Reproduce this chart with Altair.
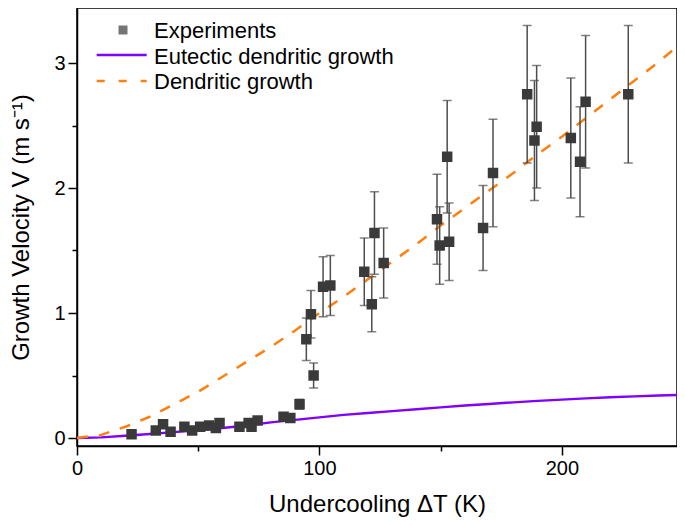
import altair as alt
import pandas as pd

# ---- data ----
exp_dT = [22.5, 32.5, 35.5, 38.6, 44.3, 47.5, 50.8, 54.5, 57.3, 58.8, 67.0, 70.8, 72.0, 74.5,
          85.2, 88.0, 91.8, 94.6, 96.5, 97.6, 101.5, 104.5, 118.5, 121.6, 122.7, 126.5,
          148.5, 149.6, 152.7, 153.5, 167.5, 171.6, 185.7, 188.7, 189.6, 203.7, 207.5, 209.8, 227.4]
exp_V = [0.03, 0.06, 0.11, 0.05, 0.09, 0.06, 0.09, 0.10, 0.08, 0.12, 0.09, 0.12, 0.09, 0.14,
         0.17, 0.16, 0.27, 0.79, 0.99, 0.50, 1.21, 1.22, 1.33, 1.07, 1.64, 1.40,
         1.75, 1.54, 2.25, 1.57, 1.68, 2.12, 2.75, 2.38, 2.49, 2.40, 2.21, 2.69, 2.75]
exp_err = [0.02, 0.01, 0.01, 0.01, 0.01, 0.01, 0.01, 0.01, 0.01, 0.01, 0.01, 0.01, 0.01, 0.01,
           0.02, 0.02, 0.04, 0.17, 0.19, 0.10, 0.24, 0.24, 0.27, 0.22, 0.33, 0.28,
           0.36, 0.31, 0.45, 0.31, 0.34, 0.43, 0.55, 0.48, 0.49, 0.48, 0.44, 0.53, 0.55]

curve_dT = [0, 10, 20, 30, 40, 50, 60, 70, 80, 90, 100, 110, 120, 130, 140, 150, 160, 170,
            180, 190, 200, 210, 220, 230, 240, 250]
eutectic_V = [0, 0.005, 0.018, 0.032, 0.047, 0.062, 0.08, 0.10, 0.125, 0.145, 0.165, 0.185,
              0.20, 0.215, 0.23, 0.245, 0.26, 0.272, 0.285, 0.297, 0.307, 0.317, 0.326, 0.333,
              0.34, 0.345]
dendritic_V = [0, 0.025, 0.09, 0.17, 0.27, 0.37, 0.49, 0.61, 0.73, 0.86, 1.00, 1.13, 1.27,
               1.41, 1.55, 1.70, 1.84, 1.98, 2.12, 2.27, 2.41, 2.56, 2.71, 2.86, 3.01, 3.17]

legend_labels = ["Experiments", "Eutectic dendritic growth", "Dendritic growth"]
x_ticks = [0, 50, 100, 150, 200]
y_ticks = [0, 0.5, 1, 1.5, 2, 2.5, 3]

FONT = "Liberation Sans"
PURPLE = "#8000ff"
ORANGE = "#ff7f0e"
SQUARE = "#3a3a3a"
ERR = "#4d4d4d"

exp = pd.DataFrame({"T": exp_dT, "V": exp_V,
                    "lo": [v - e for v, e in zip(exp_V, exp_err)],
                    "hi": [v + e for v, e in zip(exp_V, exp_err)]})
curves = pd.DataFrame({"T": curve_dT, "eut": eutectic_V, "den": dendritic_V})

xs = alt.Scale(domain=[0, 247.5], nice=False, zero=False)
ys = alt.Scale(domain=[-0.064, 3.44], nice=False, zero=False)

xaxis = alt.Axis(
    values=x_ticks, grid=False, title="Undercooling ΔT (K)",
    labelExpr="datum.value % 100 === 0 ? datum.label : ''",
    tickSize={"condition": {"test": "datum.value % 100 === 0", "value": 9}, "value": 5},
    labelFontSize=20, titleFontSize=24, labelPadding=3, titlePadding=14,
    labelFlush=False, labelOverlap=False, titleFontWeight="normal",
)
yaxis = alt.Axis(
    values=y_ticks, grid=False, title="Growth Velocity  V  (m s⁻¹)",
    labelExpr="datum.value % 1 === 0 ? format(datum.value, 'd') : ''",
    tickSize={"condition": {"test": "datum.value % 1 === 0", "value": 9}, "value": 5},
    labelFontSize=20, titleFontSize=24, labelPadding=3, titlePadding=20,
    labelFlush=False, labelOverlap=False, titleFontWeight="normal",
)

base_c = alt.Chart(curves)
eut = base_c.mark_line(color=PURPLE, strokeWidth=2.5, clip=True).encode(
    x=alt.X("T:Q", scale=xs, axis=xaxis), y=alt.Y("eut:Q", scale=ys, axis=yaxis))
den = base_c.mark_line(color=ORANGE, strokeWidth=2.5, strokeDash=[11, 11], clip=True).encode(
    x=alt.X("T:Q", scale=xs), y=alt.Y("den:Q", scale=ys))

base_e = alt.Chart(exp)
bars = base_e.mark_rule(color=ERR, strokeWidth=1.5).encode(
    x=alt.X("T:Q", scale=xs), y=alt.Y("lo:Q", scale=ys), y2="hi:Q")
cap_lo = base_e.mark_tick(color=ERR, thickness=1.5, size=9, orient="horizontal").encode(
    x=alt.X("T:Q", scale=xs), y=alt.Y("lo:Q", scale=ys))
cap_hi = base_e.mark_tick(color=ERR, thickness=1.5, size=9, orient="horizontal").encode(
    x=alt.X("T:Q", scale=xs), y=alt.Y("hi:Q", scale=ys))
pts = base_e.mark_square(color=SQUARE, size=110, opacity=1, filled=True).encode(
    x=alt.X("T:Q", scale=xs), y=alt.Y("V:Q", scale=ys))

# ---- legend (inside plot, top-left) ----
one = pd.DataFrame({"a": [0]})
leg_sq = alt.Chart(one).mark_square(color=SQUARE, size=81, filled=True).encode(
    x=alt.value(46), y=alt.value(22))
leg_l1 = alt.Chart(one).mark_rule(color=PURPLE, strokeWidth=2.5).encode(
    x=alt.value(19.7), x2=alt.value(69.7), y=alt.value(47))
leg_l2 = alt.Chart(one).mark_rule(color=ORANGE, strokeWidth=2.5, strokeDash=[8, 14]).encode(
    x=alt.value(19.7), x2=alt.value(69.7), y=alt.value(73))
leg_texts = []
for lab, yb in zip(legend_labels, [29.5, 55.5, 81.0]):
    leg_texts.append(
        alt.Chart(pd.DataFrame({"label": [lab]})).mark_text(
            align="left", baseline="alphabetic", fontSize=22, font=FONT, color="black"
        ).encode(x=alt.value(77), y=alt.value(yb), text="label:N")
    )

chart = alt.layer(eut, den, bars, cap_lo, cap_hi, pts, leg_sq, leg_l1, leg_l2, *leg_texts).properties(
    width=600, height=438,
    padding={"left": 69, "top": 0, "right": 0, "bottom": 71},
    autosize=alt.AutoSizeParams(type="none"),
).configure_view(
    stroke="black", strokeWidth=1.5
).configure_axis(
    domainColor="black", domainWidth=1.5, tickColor="black", tickWidth=1.5,
    labelFont=FONT, titleFont=FONT, labelColor="black", titleColor="black",
)

chart.save("out.html", embed_options={"renderer": "svg", "actions": False})
